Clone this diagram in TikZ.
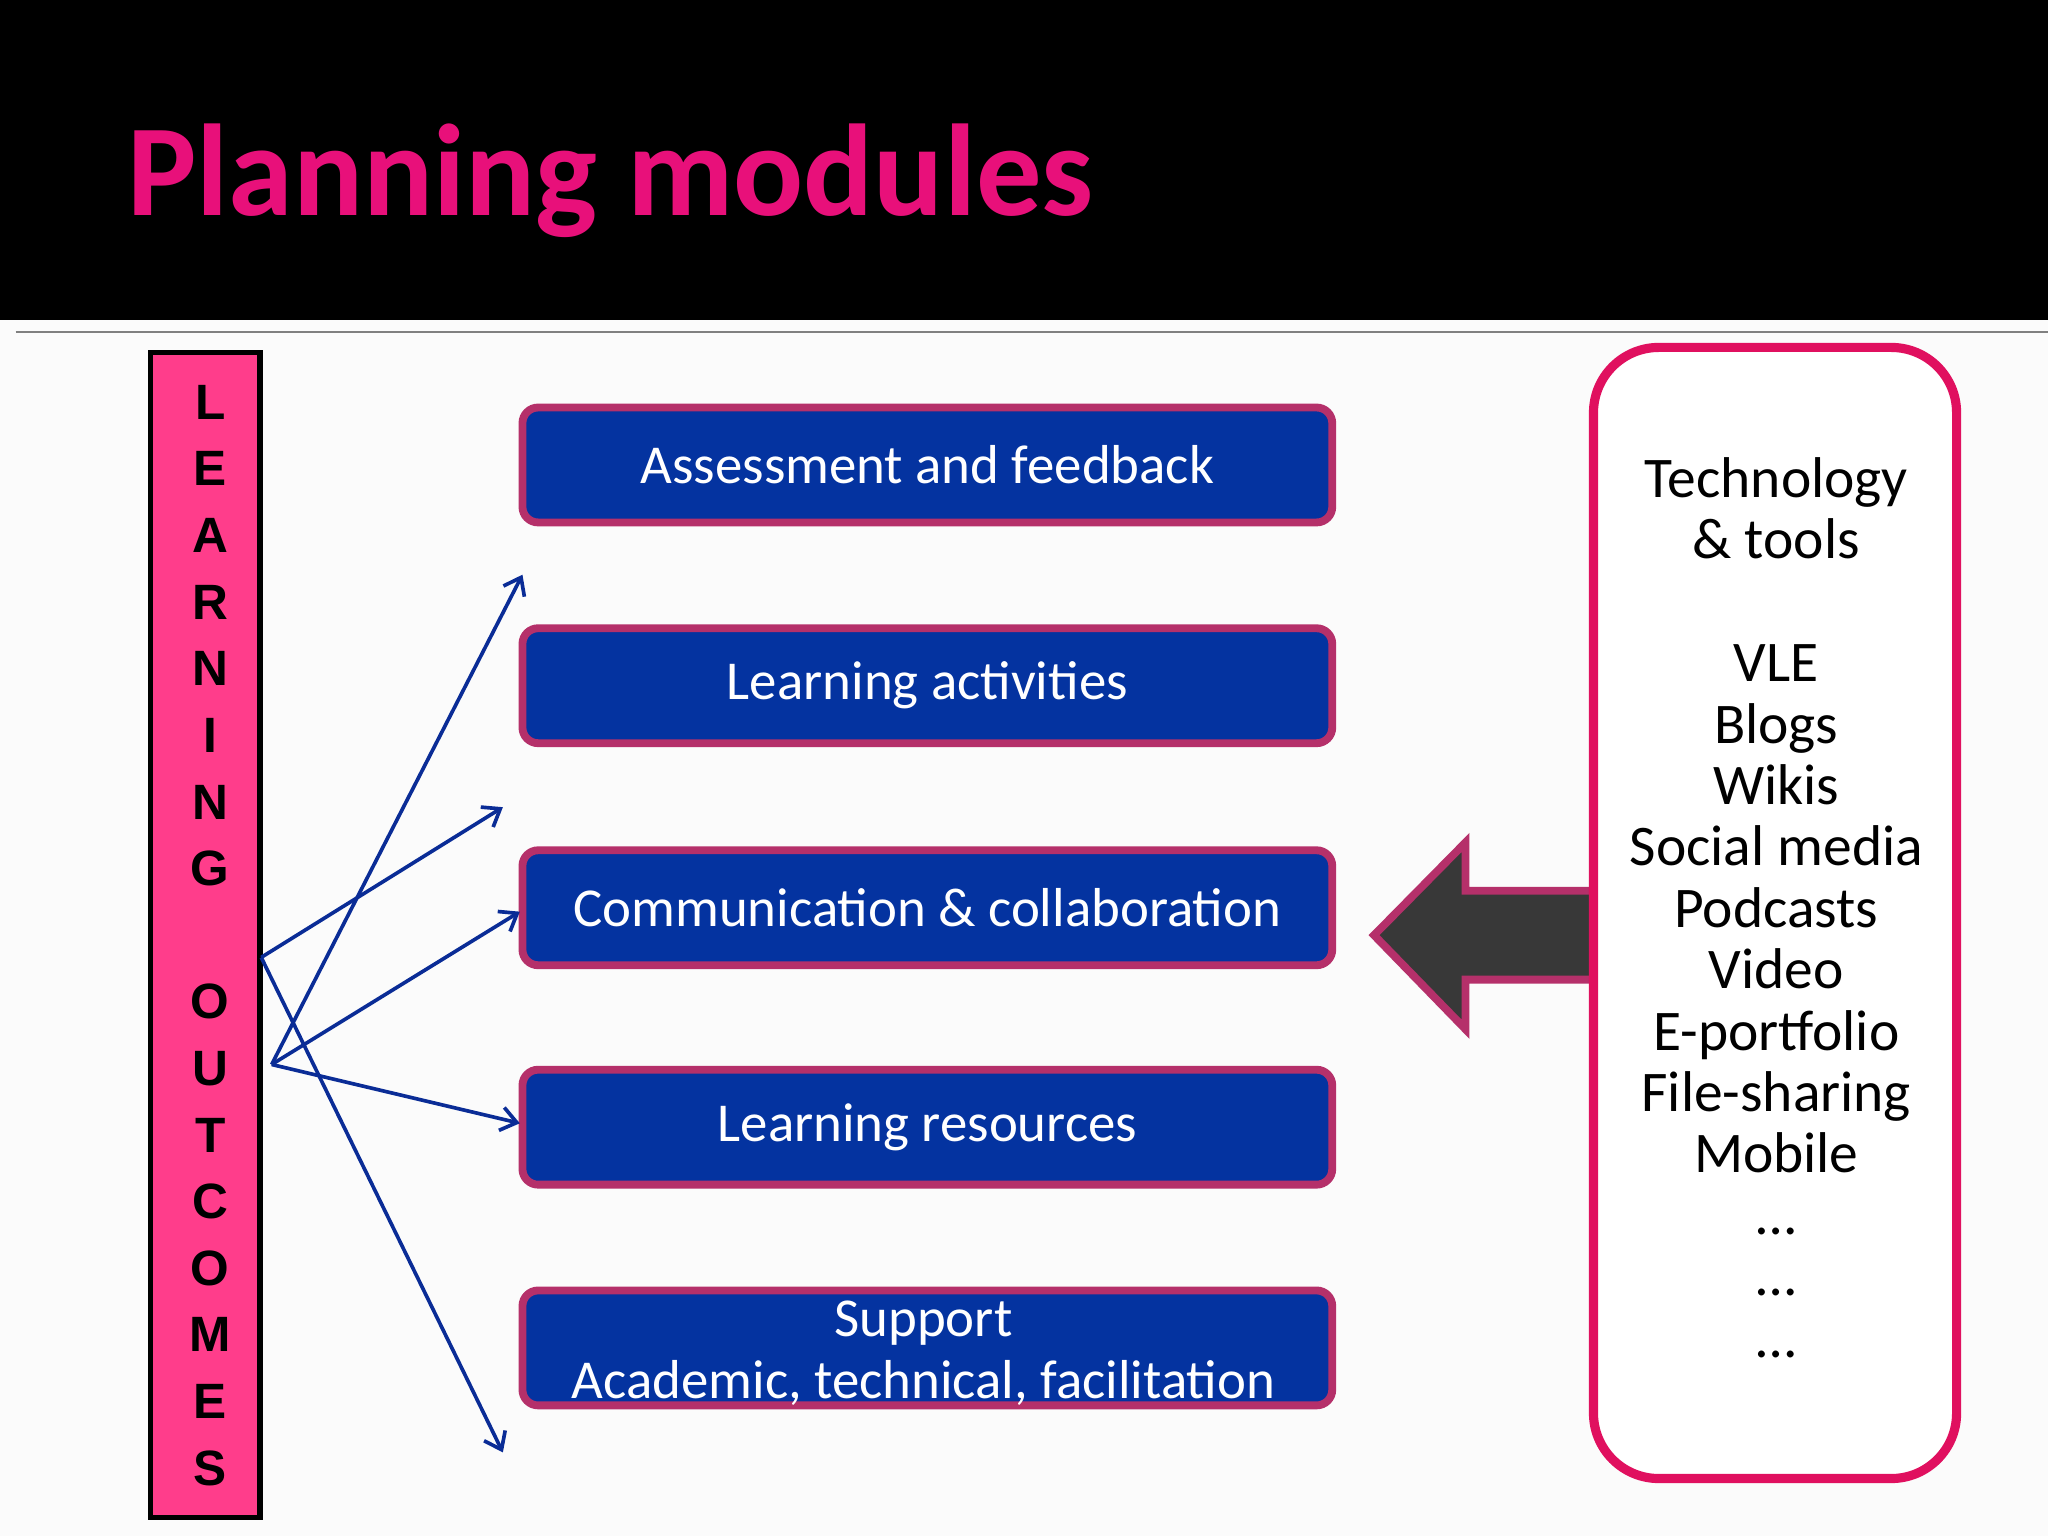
\documentclass[tikz,border=0pt]{standalone}
\usepackage{fontspec}
\setmainfont{Carlito}
\newfontfamily\barfont{Liberation Sans}
\usetikzlibrary{arrows.meta}
\definecolor{titlepink}{HTML}{E8107A}
\definecolor{barpink}{HTML}{FF3D8B}
\definecolor{boxblue}{HTML}{0433A0}
\definecolor{boxedge}{HTML}{B5306A}
\definecolor{arrblue}{HTML}{0A2C96}
\definecolor{framepink}{HTML}{E0105F}
\tikzset{
 modbox/.style={draw=boxedge,line width=3pt,fill=boxblue,rounded corners=6pt,minimum width=310pt,minimum height=44pt,text=white,font=\fontsize{21}{23.5}\selectfont,align=center,inner sep=0pt},
 conn/.style={arrblue,line width=1.4pt,-{Straight Barb[length=6pt,width=9pt]}},
 barletter/.style={font=\barfont\bfseries\fontsize{19}{19}\selectfont}
}
\begin{document}
\begin{tikzpicture}[x=0.5pt,y=-0.5pt]
\useasboundingbox (0,0) rectangle (1568,1176);
\fill[white!97!gray] (0,0) rectangle (1568,1176);
\fill[black] (0,0) rectangle (1568,245);
\node[anchor=base west,text=titlepink,font=\bfseries\fontsize{50}{50}\selectfont,inner sep=0pt] (title) at (97,165) {Planning modules};
\draw[gray,line width=0.8pt] (12,254) -- (1568,254);
% left bar
\node[draw=black,line width=2pt,fill=barpink,minimum width=42pt,minimum height=446pt,inner sep=0pt] (bar) at (157,716) {};
\foreach \l/\y [count=\i] in {L/308,E/359,A/410,R/461,N/512,I/563,N/614,G/665,O/767,U/818,T/869,C/920,O/971,M/1022,E/1073,S/1124}
  \node[barletter] (bl\i) at (161,\y) {\l};
% boxes
\node[modbox] (b1) at (710,356) {Assessment and feedback};
\node[modbox] (b2) at (710,525) {Learning activities};
\node[modbox] (b3) at (710,695) {Communication \& collaboration};
\node[modbox] (b4) at (710,863) {Learning resources};
\node[modbox] (b5) at (710,1032) {};
\node[text=white,font=\fontsize{21}{23.5}\selectfont,align=center,inner sep=0pt] (b5t) at (707,1036) {Support\\Academic, technical, facilitation};
% connectors
\coordinate (pA) at (200,733);
\coordinate (pB) at (208,815);
\coordinate (t1) at (400,440);
\coordinate (t2) at (385,618);
\coordinate (t3) at (398,698);
\coordinate (t4) at (398,860);
\coordinate (t5) at (385,1112);
\draw[conn] (pA) -- (t2);
\draw[conn] (pA) -- (t5);
\draw[conn] (pB) -- (t1);
\draw[conn] (pB) -- (t3);
\draw[conn] (pB) -- (t4);
% big arrow
\draw[boxedge,line width=3pt,fill=black!78,line join=miter] (1222,682) -- (1122,682) -- (1122,645) -- (1052,716) -- (1122,788) -- (1122,750) -- (1222,750);
% right frame
\node[draw=framepink,line width=3.5pt,fill=white,rounded corners=25pt,minimum width=139pt,minimum height=433pt] (frame) at (1359,699) {};
\node[anchor=north,align=center,font=\fontsize{22}{23.5}\selectfont,inner sep=0pt] (tools) at (1360,350)
 {Technology\\\& tools\\[23.5pt]VLE\\Blogs\\Wikis\\Social media\\Podcasts\\Video\\E-portfolio\\File-sharing\\Mobile\\…\\…\\…};
\end{tikzpicture}
\end{document}
